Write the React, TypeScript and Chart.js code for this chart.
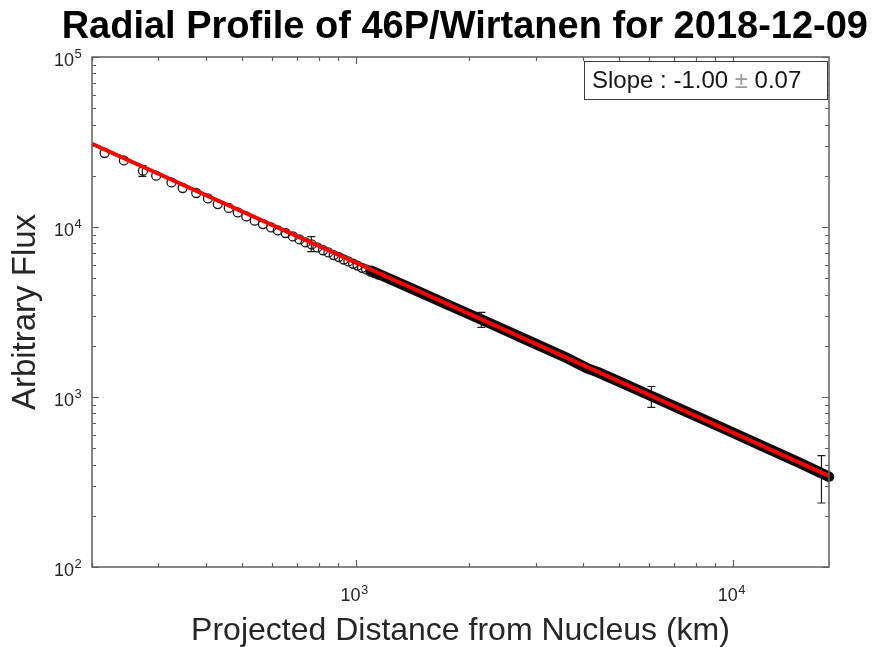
import React, { useEffect, useRef } from 'react';
import { Chart, registerables } from 'chart.js';

Chart.register(...registerables);

const FONT = "'Liberation Sans', Arial, Helvetica, sans-serif";

// Axis ranges and ticks
const X_MIN = 200;
const X_MAX = 18000;
const Y_MIN = 100;
const Y_MAX = 100000;
const xTickValues = [200, 300, 400, 500, 600, 700, 800, 900, 1000, 2000, 3000, 4000, 5000, 6000, 7000, 8000, 9000, 10000];
const yTickValues = [100, 200, 300, 400, 500, 600, 700, 800, 900, 1000, 2000, 3000, 4000, 5000, 6000, 7000, 8000, 9000, 10000, 20000, 30000, 40000, 50000, 60000, 70000, 80000, 90000, 100000];
const xMajor = [1000, 10000];
const yMajor = [100, 1000, 10000, 100000];
// tick labels: base "10" with these exponents
const xTickExp: Record<number, string> = { 1000: '3', 10000: '4' };
const yTickExp: Record<number, string> = { 100: '2', 1000: '3', 10000: '4', 100000: '5' };

// Measured profile (open circles, sparse part)
const circleX = [216, 243, 273, 296, 325, 348, 378, 406, 431, 461, 487, 513, 540, 568, 597, 622, 652, 682, 710, 737, 765, 792, 820, 847, 875, 902, 930, 957, 985, 1012, 1040, 1067, 1095, 1122, 1150];
const circleY = [27240, 24650, 21430, 20040, 18300, 16960, 15850, 14730, 13650, 12940, 12190, 11540, 10890, 10410, 9945, 9550, 9220, 8806, 8450, 8120, 7900, 7580, 7300, 7090, 6840, 6660, 6440, 6270, 6080, 5930, 5750, 5630, 5460, 5350, 5240];

// Measured profile (dense part, where circles merge into a band)
const bandX = [1100, 1400, 1800, 2300, 2900, 3600, 4100, 4400, 5000, 6000, 7500, 9500, 12000, 15000, 18000];
const bandY = [5530, 4370, 3410, 2680, 2125, 1712, 1480, 1395, 1232, 1028, 823, 650, 514, 411, 340];

// Power-law fit
const fitX = [200, 18000];
const fitY = [30900, 343];

// Error bars
const errX = [272, 763, 2155, 6085, 17190];
const errLow = [19870, 7160, 2566, 869, 238];
const errHigh = [22970, 8770, 3148, 1153, 452];

const slopeParts = ['Slope : -1.00 ', '±', ' 0.07'];

const AXIS_COLOR = '#5f5f5f';
const TEXT_COLOR = '#262626';

const errorBarPlugin = {
  id: 'errorBars',
  beforeDatasetsDraw(chart: any) {
    const { ctx, scales } = chart;
    ctx.save();
    ctx.strokeStyle = '#1e1e1e';
    ctx.lineWidth = 1.2;
    for (let i = 0; i < errX.length; i++) {
      const px = scales.x.getPixelForValue(errX[i]);
      const lo = scales.y.getPixelForValue(errLow[i]);
      const hi = scales.y.getPixelForValue(errHigh[i]);
      ctx.beginPath();
      ctx.moveTo(px, lo);
      ctx.lineTo(px, hi);
      ctx.moveTo(px - 4, lo);
      ctx.lineTo(px + 4, lo);
      ctx.moveTo(px - 4, hi);
      ctx.lineTo(px + 4, hi);
      ctx.stroke();
    }
    ctx.restore();
  },
};

const frameTicksPlugin = {
  id: 'frameTicks',
  afterDatasetsDraw(chart: any) {
    const { ctx, chartArea: a, scales } = chart;
    ctx.save();
    ctx.strokeStyle = AXIS_COLOR;
    ctx.lineWidth = 1.2;
    ctx.beginPath();
    for (const v of xTickValues) {
      const px = Math.round(scales.x.getPixelForValue(v)) + 0.5;
      const len = xMajor.includes(v) ? 7 : 4;
      ctx.moveTo(px, a.bottom);
      ctx.lineTo(px, a.bottom - len);
      ctx.moveTo(px, a.top);
      ctx.lineTo(px, a.top + len);
    }
    for (const v of yTickValues) {
      const py = Math.round(scales.y.getPixelForValue(v)) + 0.5;
      const len = yMajor.includes(v) ? 7 : 4;
      ctx.moveTo(a.left, py);
      ctx.lineTo(a.left + len, py);
      ctx.moveTo(a.right, py);
      ctx.lineTo(a.right - len, py);
    }
    ctx.stroke();
    ctx.lineWidth = 1.5;
    ctx.strokeRect(a.left, a.top, a.right - a.left, a.bottom - a.top);
    ctx.restore();
  },
};

// draws the exponent of each "10" tick label
const exponentPlugin = {
  id: 'tickExponents',
  afterDraw(chart: any) {
    const { ctx, chartArea: a, scales } = chart;
    ctx.save();
    ctx.fillStyle = TEXT_COLOR;
    ctx.textAlign = 'left';
    ctx.textBaseline = 'alphabetic';
    ctx.font = `18px ${FONT}`;
    const baseW = ctx.measureText('10').width;
    const spaceW = ctx.measureText('  ').width;
    ctx.font = `13px ${FONT}`;
    Object.keys(xTickExp).forEach((k) => {
      const v = Number(k);
      const px = scales.x.getPixelForValue(v);
      const x = px - (baseW + spaceW) / 2 + baseW + 0.5;
      ctx.fillText(xTickExp[v], x, a.bottom + 27);
    });
    Object.keys(yTickExp).forEach((k) => {
      const v = Number(k);
      const py = scales.y.getPixelForValue(v);
      ctx.fillText(yTickExp[v], a.left - 18 + 0.5, py + 1);
    });
    ctx.restore();
  },
};

const slopeBoxPlugin = {
  id: 'slopeBox',
  afterDraw(chart: any) {
    const { ctx, chartArea: a } = chart;
    const boxRight = a.right - 1;
    const boxLeft = boxRight - 244;
    const boxTop = a.top + 4;
    const boxH = 39;
    ctx.save();
    ctx.fillStyle = '#ffffff';
    ctx.fillRect(boxLeft, boxTop, boxRight - boxLeft, boxH);
    ctx.strokeStyle = '#3a3a3a';
    ctx.lineWidth = 1;
    ctx.strokeRect(boxLeft + 0.5, boxTop + 0.5, boxRight - boxLeft - 1, boxH - 1);
    ctx.font = `24px ${FONT}`;
    ctx.textBaseline = 'middle';
    ctx.textAlign = 'left';
    let x = boxLeft + 8;
    const y = boxTop + boxH / 2 + 1;
    slopeParts.forEach((t, i) => {
      ctx.fillStyle = i === 1 ? '#9a9a9a' : '#161616';
      ctx.fillText(t, x, y);
      x += ctx.measureText(t).width;
    });
    ctx.restore();
  },
};

export default function App() {
  const canvasRef = useRef<HTMLCanvasElement | null>(null);

  useEffect(() => {
    if (!canvasRef.current) return;
    Chart.defaults.font.family = FONT;
    Chart.defaults.color = TEXT_COLOR;

    const chart = new Chart(canvasRef.current, {
      type: 'scatter',
      data: {
        datasets: [
          {
            label: 'Fit',
            data: fitX.map((x, i) => ({ x, y: fitY[i] })),
            showLine: true,
            borderColor: '#ff0000',
            borderWidth: 4,
            pointRadius: 0,
            borderCapStyle: 'butt',
          },
          {
            label: 'Profile (dense)',
            data: bandX.map((x, i) => ({ x, y: bandY[i] })),
            showLine: true,
            borderColor: '#0b0b0b',
            borderWidth: 10.5,
            pointRadius: 0,
            borderCapStyle: 'round',
            borderJoinStyle: 'round',
            clip: 8,
          },
          {
            label: 'Profile',
            data: circleX.map((x, i) => ({ x, y: circleY[i] })),
            showLine: false,
            pointRadius: 4.5,
            pointBorderWidth: 1.3,
            pointBorderColor: '#1a1a1a',
            pointBackgroundColor: 'rgba(255,255,255,0)',
          },
        ],
      },
      options: {
        responsive: false,
        animation: false,
        layout: { padding: { left: 0, right: 7, top: 0, bottom: 0 } },
        plugins: {
          legend: { display: false },
          tooltip: { enabled: false },
          title: {
            display: true,
            text: 'Radial Profile of 46P/Wirtanen for 2018-12-09',
            align: 'end',
            color: '#000000',
            font: { size: 38, weight: 'bold', family: FONT, lineHeight: 1 },
            padding: { top: 9, bottom: 10 },
          },
        },
        scales: {
          x: {
            type: 'logarithmic',
            min: X_MIN,
            max: X_MAX,
            position: 'bottom',
            afterBuildTicks: (s: any) => {
              s.ticks = xTickValues.map((v) => ({ value: v }));
            },
            afterFit: (s: any) => {
              s.height = 80;
            },
            grid: { display: false, drawTicks: false },
            border: { display: false },
            ticks: {
              autoSkip: false,
              maxRotation: 0,
              padding: 18,
              color: TEXT_COLOR,
              font: { size: 18, family: FONT },
              callback: (v: any) => (xTickExp[Math.round(Number(v))] ? '10  ' : ''),
            },
            title: {
              display: true,
              text: 'Projected Distance from Nucleus (km)',
              color: TEXT_COLOR,
              font: { size: 32, family: FONT, lineHeight: 1 },
              padding: { top: 0, bottom: 0 },
            },
          },
          y: {
            type: 'logarithmic',
            min: Y_MIN,
            max: Y_MAX,
            position: 'left',
            afterBuildTicks: (s: any) => {
              s.ticks = yTickValues.map((v) => ({ value: v }));
            },
            afterFit: (s: any) => {
              s.width = 92;
            },
            grid: { display: false, drawTicks: false },
            border: { display: false },
            ticks: {
              autoSkip: false,
              padding: 18,
              color: TEXT_COLOR,
              font: { size: 18, family: FONT, lineHeight: 0.5 },
              callback: (v: any) => (yTickExp[Math.round(Number(v))] ? ['', '10'] : ''),
            },
            title: {
              display: true,
              text: 'Arbitrary Flux',
              color: TEXT_COLOR,
              font: { size: 33, family: FONT, lineHeight: 1 },
              padding: { top: 9, bottom: 0 },
            },
          },
          y2: {
            type: 'linear',
            position: 'right',
            display: true,
            afterFit: (s: any) => {
              s.width = 39;
            },
            grid: { display: false, drawTicks: false },
            border: { display: false },
            ticks: { display: false },
          },
        },
      },
      plugins: [errorBarPlugin, frameTicksPlugin, exponentPlugin, slopeBoxPlugin],
    } as any);

    return () => chart.destroy();
  }, []);

  return (
    <div style={{ position: 'absolute', left: 0, top: 0, width: 875, height: 647, background: '#ffffff' }}>
      <canvas ref={canvasRef} width={875} height={647} style={{ width: 875, height: 647, display: 'block' }} />
    </div>
  );
}
